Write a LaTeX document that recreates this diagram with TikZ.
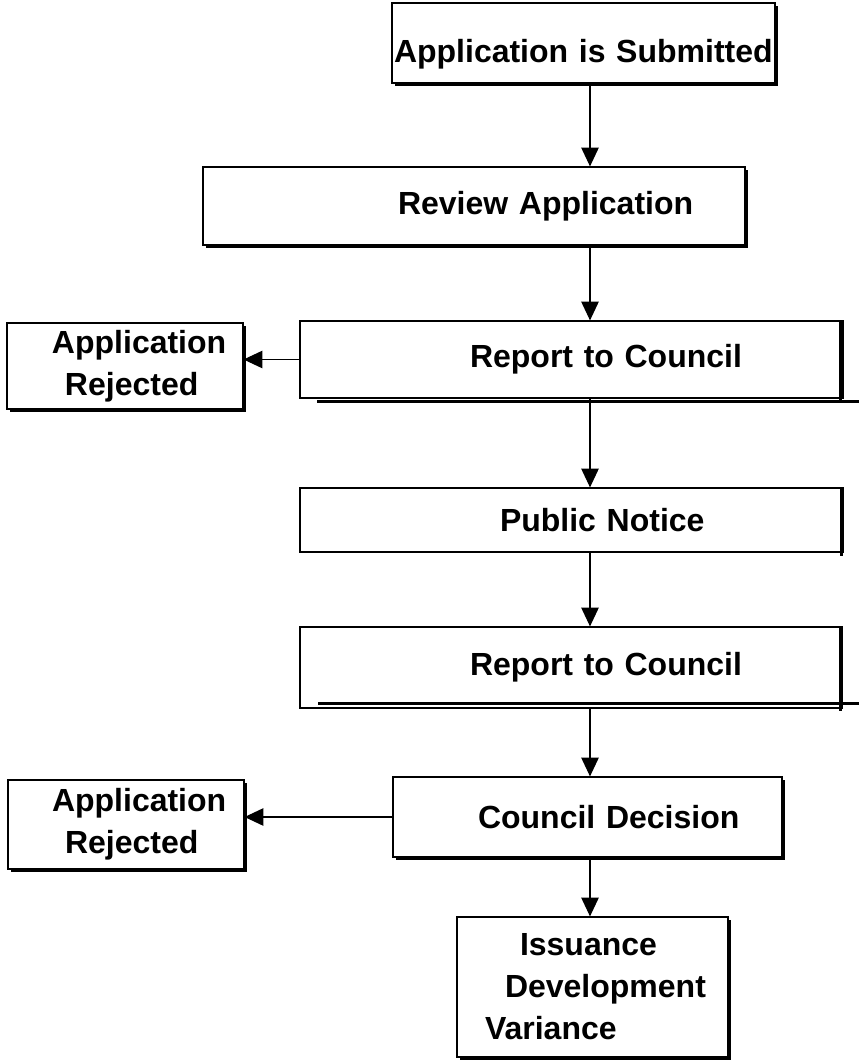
\documentclass[tikz,border=0pt]{standalone}
\usepackage{fontspec}
\setmainfont{Liberation Sans}
\usetikzlibrary{arrows.meta, calc, shadows}

\begin{document}
\begin{tikzpicture}[
  x=0.75pt, y=-0.75pt,
  box/.style={draw, line width=0.9pt, fill=white, inner xsep=0pt, text width=#1, align=left, font=\fontsize{24}{31.5}\selectfont\bfseries},
  shbox/.style={box=#1, drop shadow={shadow xshift=2.5pt, shadow yshift=-2.5pt, fill=black, opacity=1}},
  arr/.style={-{Triangle[length=14pt, width=13pt]}, line width=0.9pt},
  rimline/.style={line width=2.6pt},
]
\useasboundingbox (0,0) rectangle (859,1062);
\coordinate (axis) at (590,0);
\coordinate (rim) at (859,0);

% Main steps
\node[shbox=287.25pt, minimum height=60pt, inner ysep=0pt, text height=44.8pt, text depth=15.2pt] (sub) at (583.5,43) {\hspace*{1.5pt}Application is Submitted};
\node[shbox=406.5pt, minimum height=58.5pt] (rev) at (474,206) {\hspace*{146.25pt}Review Application};
\node[box=407.25pt, minimum height=57.75pt] (rep1) at (571.5,359.5) {\hspace*{127.5pt}Report to Council};
\node[box=407.25pt, minimum height=48pt] (pub) at (571.5,520) {\hspace*{150pt}Public Notice};
\node[box=406.5pt, minimum height=60.75pt] (rep2) at (571,667.5) {\hspace*{127.5pt}Report to Council};
\node[shbox=291.75pt, minimum height=60pt] (dec) at (587.5,817) {\hspace*{63.75pt}Council Decision};
\node[shbox=203.25pt, minimum height=105pt] (iss) at (592.5,987) {\hspace*{47.25pt}Issuance\\\hspace*{36pt}Development\\\hspace*{21pt}Variance};
% Rejections
\node[shbox=177pt, minimum height=64.5pt] (rej1) at (125,366) {\hspace*{33.75pt}Application\\\hspace*{43.5pt}Rejected};
\node[shbox=177pt, minimum height=66.75pt] (rej2) at (126,824.5) {\hspace*{33pt}Application\\\hspace*{42.75pt}Rejected};

% Odd shadows of the report and notice boxes
\draw[rimline] ($(rep1.south west)+(18,3)$) -- ($(rep1.south west -| rim)+(0,3)$);
\draw[rimline] ($(rep1.north east)+(-3,0)$) -- ($(rep1.south east)+(-3,3)$);
\draw[rimline] ($(pub.north east)+(-2,0)$) -- ($(pub.south east)+(-2,3)$);
\draw[rimline] ($(rep2.south west)+(19,-5)$) -- ($(rep2.south west -| rim)+(0,-5)$);
\draw[rimline] ($(rep2.north east)+(-2,0)$) -- ($(rep2.south east)+(-2,2)$);

% Flow down
\draw[arr] (sub.south -| axis) -- (rev.north -| axis);
\draw[arr] (rev.south -| axis) -- (rep1.north -| axis);
\draw[arr] (rep1.south -| axis) -- (pub.north -| axis);
\draw[arr] (pub.south -| axis) -- (rep2.north -| axis);
\draw[arr] (rep2.south -| axis) -- (dec.north -| axis);
\draw[arr] (dec.south -| axis) -- (iss.north -| axis);
% Flow left
\draw[arr] (rep1.west) -- (rep1.west -| rej1.east);
\draw[arr] (dec.west) -- (dec.west -| rej2.east);
\end{tikzpicture}
\end{document}
